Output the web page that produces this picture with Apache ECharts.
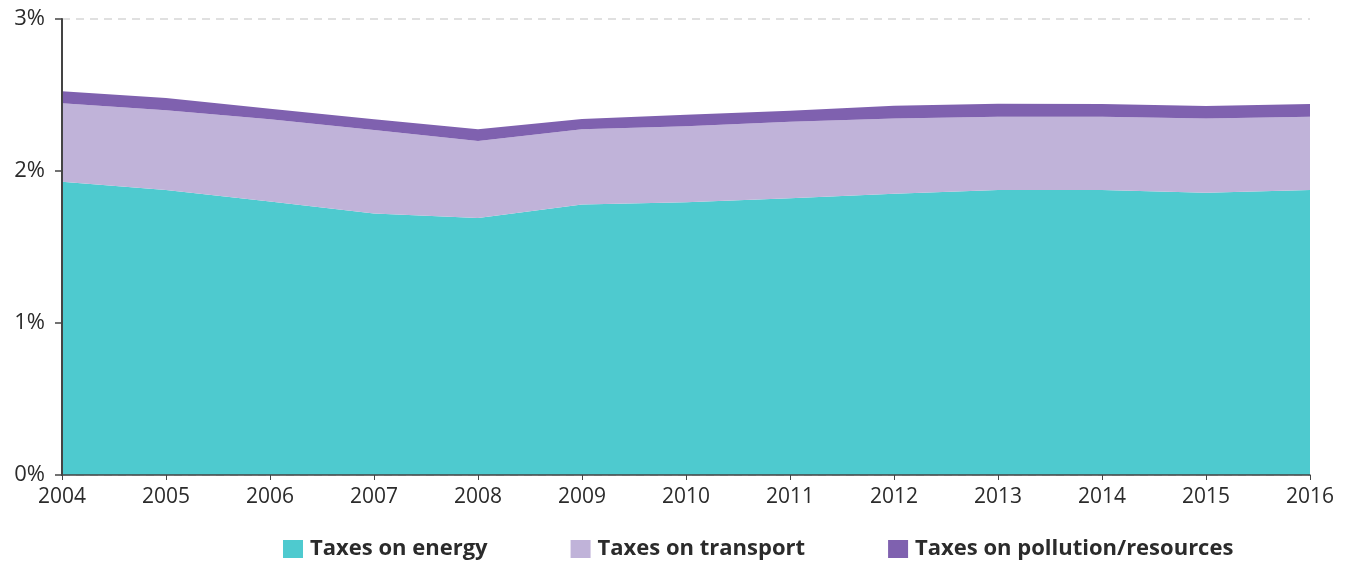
<!DOCTYPE html>
<html>
<head>
<meta charset="utf-8">
<script src="https://cdn.jsdelivr.net/npm/echarts@6/dist/echarts.min.js"></script>
<style>html,body{margin:0;padding:0;background:#fff;}#c{width:1347px;height:561px;}</style>
</head>
<body>
<div id="c"></div>
<script>
const years = ['2004','2005','2006','2007','2008','2009','2010','2011','2012','2013','2014','2015','2016'];
const energy = [1.93,1.875,1.80,1.72,1.69,1.78,1.795,1.82,1.85,1.875,1.875,1.857,1.875];
const transport = [0.515,0.525,0.54,0.55,0.507,0.494,0.50,0.504,0.495,0.482,0.482,0.489,0.482];
const pollution = [0.079,0.08,0.07,0.07,0.077,0.068,0.075,0.073,0.084,0.086,0.083,0.082,0.083];
const seriesNames = ['Taxes on energy','Taxes on transport','Taxes on pollution/resources'];
const colors = ['#4ECACF','#C0B3D9','#7F61AF'];
const FONT = '"Open Sans", "Noto Sans", sans-serif';

const chart = echarts.init(document.getElementById('c'), null, {renderer:'canvas'});
function mk(name, data, color){
  return {
    name, type:'line', stack:'total', data, symbol:'none', smooth:false,
    yAxisIndex:0,
    lineStyle:{width:0, color}, itemStyle:{color},
    areaStyle:{color, opacity:1}, emphasis:{disabled:true}
  };
}
chart.setOption({
  animation:false,
  color: colors,
  grid:{left:62, right:37, top:19, bottom:86, containLabel:false},
  legend:{
    left:278, top:533, itemWidth:20, itemHeight:18, itemGap:83,
    icon:'rect',
    textStyle:{fontFamily:FONT, fontSize:22, fontWeight:'bold', color:'#2b2b2b', padding:[0,0,0,2]},
    data: seriesNames
  },
  xAxis:{
    type:'category', data:years, boundaryGap:false, z:5,
    axisLine:{lineStyle:{color:'#444', width:1.5}},
    axisTick:{show:true, length:5, lineStyle:{color:'#444'}},
    axisLabel:{fontFamily:FONT, fontSize:21, color:'#2b2b2b', margin:12, showMinLabel:true, showMaxLabel:true, interval:0},
    splitLine:{show:false}
  },
  yAxis:[
    {
      type:'value', min:0, max:3, interval:1, position:'left',
      axisLine:{show:false}, axisTick:{show:false}, axisLabel:{show:false},
      splitLine:{show:true, lineStyle:{color:'#d6d6d6', type:[8,6], width:1.5}}
    },
    {
      type:'value', min:0, max:3, interval:1, z:5, position:'left', offset:0,
      axisLine:{show:true, lineStyle:{color:'#444', width:2}},
      axisTick:{show:true, length:7, lineStyle:{color:'#444', width:1.5}},
      axisLabel:{fontFamily:FONT, fontSize:22, color:'#2b2b2b', margin:17, formatter: v => v + '%'},
      splitLine:{show:false}
    }
  ],
  series:[
    mk(seriesNames[0], energy, colors[0]),
    mk(seriesNames[1], transport, colors[1]),
    mk(seriesNames[2], pollution, colors[2])
  ]
});
</script>
</body>
</html>
